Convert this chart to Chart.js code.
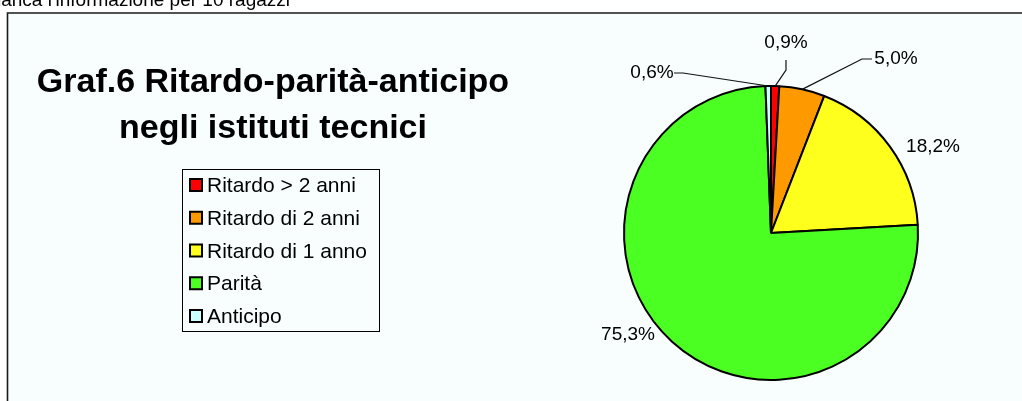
<!DOCTYPE html>
<html lang="it">
<head>
  <meta charset="utf-8">
  <title>Graf.6 Ritardo-parità-anticipo negli istituti tecnici</title>
  <script src="https://cdn.jsdelivr.net/npm/chart.js@4/dist/chart.umd.min.js"></script>
  <style>
    html, body { margin: 0; padding: 0; background: #ffffff; overflow: hidden; }
    canvas { display: block; }
  </style>
</head>
<body>
<canvas id="chart" width="1022" height="401"></canvas>
<script>
  // dati
  const categories = ['Ritardo > 2 anni', 'Ritardo di 2 anni', 'Ritardo di 1 anno', 'Parità', 'Anticipo'];
  const percentages = [0.9, 5.0, 18.2, 75.3, 0.6];
  const sliceColors = ['#ff0000', '#ff9900', '#ffff1e', '#4cff22', '#ccffff'];
  const titleLines = ['Graf.6 Ritardo-parità-anticipo', 'negli istituti tecnici'];
  const noteText = "manca l'informazione per 10 ragazzi";

  const FONT = '"Liberation Sans", Arial, sans-serif';

  // posizione delle etichette rispetto al centro della torta (px)
  const labelOffsets = [[15, -190], [125, -174], [162, -86], [-143, 102], [-119, -160]];
  // tratto iniziale delle linee guida (null = nessuna linea)
  const leaderElbows = [
    [[15, -173], [15, -163]],
    [[101, -174], [91, -174]],
    null,
    null,
    [[-97, -160], [-88, -160]]
  ];

  const fmt = v => v.toFixed(1).replace('.', ',') + '%';

  const decorPlugin = {
    id: 'decor',
    beforeDraw(chart) {
      const ctx = chart.ctx;
      ctx.save();
      ctx.fillStyle = '#ffffff';
      ctx.fillRect(0, 0, chart.width, chart.height);
      // area del grafico con cornice
      ctx.fillStyle = '#f8fefe';
      ctx.fillRect(8, 13, chart.width - 8, chart.height - 13);
      ctx.strokeStyle = '#1a1a1a';
      ctx.lineWidth = 1.6;
      ctx.beginPath();
      ctx.moveTo(7.5, chart.height);
      ctx.lineTo(7.5, 13);
      ctx.lineTo(chart.width, 13);
      ctx.stroke();

      // nota in alto, tagliata a sinistra
      ctx.fillStyle = '#000';
      ctx.font = '19px ' + FONT;
      ctx.textAlign = 'right';
      ctx.textBaseline = 'alphabetic';
      ctx.fillText(noteText, 290, 6);
      ctx.restore();
    },
    afterDraw(chart) {
      const ctx = chart.ctx;
      ctx.save();

      // titolo
      ctx.fillStyle = '#000';
      ctx.font = 'bold 34px ' + FONT;
      ctx.textAlign = 'center';
      ctx.fillText(titleLines[0], 273, 92);
      ctx.fillText(titleLines[1], 273, 138);

      // legenda
      ctx.fillStyle = '#f8fefe';
      ctx.fillRect(182, 169, 198, 163);
      ctx.strokeStyle = '#000';
      ctx.lineWidth = 1;
      ctx.strokeRect(182.5, 169.5, 197, 162);
      ctx.font = '21px ' + FONT;
      ctx.textAlign = 'left';
      categories.forEach((c, i) => {
        const base = 192 + i * 32.75;
        ctx.fillStyle = sliceColors[i];
        ctx.fillRect(190, base - 13, 12, 12);
        ctx.strokeStyle = '#000';
        ctx.lineWidth = 2;
        ctx.strokeRect(190, base - 13, 12, 12);
        ctx.fillStyle = '#000';
        ctx.fillText(c, 207, base);
      });

      // etichette percentuali
      const arcs = chart.getDatasetMeta(0).data;
      ctx.font = '19px ' + FONT;
      ctx.textAlign = 'center';
      ctx.textBaseline = 'middle';
      arcs.forEach((arc, i) => {
        const p = arc.getProps(['x', 'y', 'startAngle', 'endAngle', 'outerRadius'], true);
        const mid = (p.startAngle + p.endAngle) / 2;
        const ax = p.x + Math.cos(mid) * p.outerRadius;
        const ay = p.y + Math.sin(mid) * p.outerRadius;
        const el = leaderElbows[i];
        if (el) {
          ctx.strokeStyle = '#111';
          ctx.lineWidth = 1.2;
          ctx.beginPath();
          ctx.moveTo(p.x + el[0][0], p.y + el[0][1]);
          ctx.lineTo(p.x + el[1][0], p.y + el[1][1]);
          ctx.lineTo(ax, ay);
          ctx.stroke();
        }
        ctx.fillStyle = '#000';
        ctx.fillText(fmt(percentages[i]), p.x + labelOffsets[i][0], p.y + labelOffsets[i][1]);
      });
      ctx.restore();
    }
  };

  new Chart(document.getElementById('chart'), {
    type: 'pie',
    data: {
      labels: categories,
      datasets: [{
        data: percentages,
        backgroundColor: sliceColors,
        borderColor: '#000',
        borderWidth: 2,
        hoverOffset: 0
      }]
    },
    options: {
      responsive: false,
      animation: false,
      events: [],
      layout: {
        padding: { left: 623, right: 103, top: 85, bottom: 20 }
      },
      plugins: {
        legend: { display: false },
        title: { display: false },
        tooltip: { enabled: false }
      }
    },
    plugins: [decorPlugin]
  });
</script>
</body>
</html>
